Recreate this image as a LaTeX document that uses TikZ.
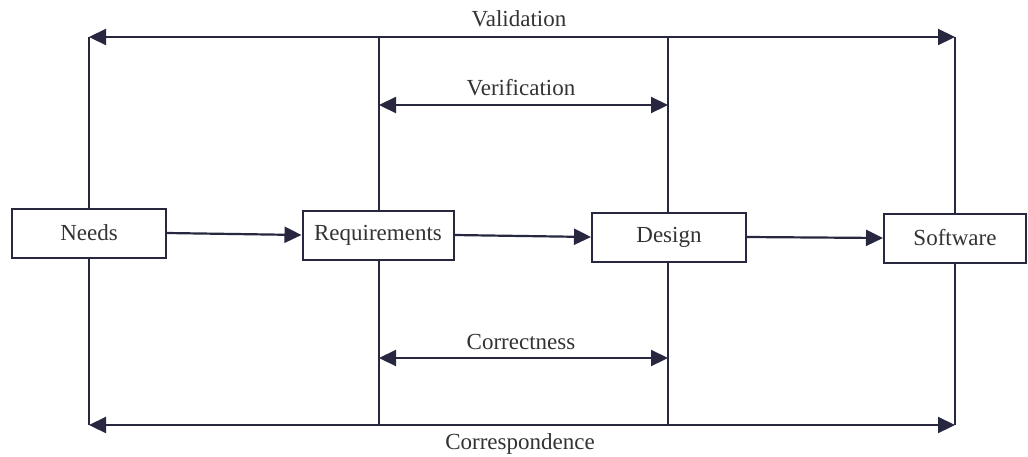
\documentclass[tikz,border=0pt]{standalone}
\usepackage{fontspec}
\setmainfont{Liberation Serif}
\usetikzlibrary{arrows.meta}
\definecolor{ink}{HTML}{272840}
\definecolor{txt}{HTML}{333333}
\tikzset{
  stage/.style={draw=ink, line width=2pt, fill=white, minimum width=154pt, minimum height=49pt, inner sep=0pt, text=txt, font=\fontsize{23}{26}\selectfont},
  lbl/.style={text=txt, font=\fontsize{23}{26}\selectfont, inner sep=0pt},
  conn/.style={draw=ink, line width=2.2pt, -{Triangle[length=17pt,width=16pt]}},
  both/.style={draw=ink, line width=2.2pt, {Triangle[length=17pt,width=16pt]}-{Triangle[length=17pt,width=16pt]}},
  vline/.style={draw=ink, line width=1.8pt}
}
\begin{document}
\begin{tikzpicture}[x=1pt,y=-1pt]
\useasboundingbox[fill=white] (0,0) rectangle (1028,456);
% boxes
\node[stage] (needs) at (89,233) {Needs};
\node[stage, minimum width=151pt] (req) at (378,235) {Requirements};
\node[stage] (design) at (669,237) {Design};
\node[stage, minimum width=142pt] (soft) at (955,238) {Software};
% corner coordinates
\coordinate (nt) at (89,37);
\coordinate (nb) at (89,425);
\coordinate (rt) at (379,37);
\coordinate (rb) at (379,425);
\coordinate (dt) at (668,37);
\coordinate (db) at (668,425);
\coordinate (st) at (955,37);
\coordinate (sb) at (955,425);
\coordinate (rv) at (379,105);
\coordinate (dv) at (668,105);
\coordinate (rc) at (379,358);
\coordinate (dc) at (668,358);
% vertical lines
\draw[vline] (nt) -- (needs.north);
\draw[vline] (needs.south) -- (nb);
\draw[vline] (rt) -- (req.north -| rt);
\draw[vline] (req.south -| rb) -- (rb);
\draw[vline] (dt) -- (design.north -| dt);
\draw[vline] (design.south -| db) -- (db);
\draw[vline] (st) -- (soft.north);
\draw[vline] (soft.south) -- (sb);
% horizontal double arrows
\draw[both] (nt) -- (st);
\draw[both] (rv) -- (dv);
\draw[both] (rc) -- (dc);
\draw[both] (nb) -- (sb);
% flow arrows
\draw[conn] (needs.east) -- (req.west);
\draw[conn] (req.east) -- (design.west);
\draw[conn] (design.east) -- (soft.west);
% labels
\node[lbl] (val) at (519,19) {Validation};
\node[lbl] (ver) at (521,88) {Verification};
\node[lbl] (cor) at (521,342) {Correctness};
\node[lbl] (corr) at (520,444) {Correspondence};
\end{tikzpicture}
\end{document}
